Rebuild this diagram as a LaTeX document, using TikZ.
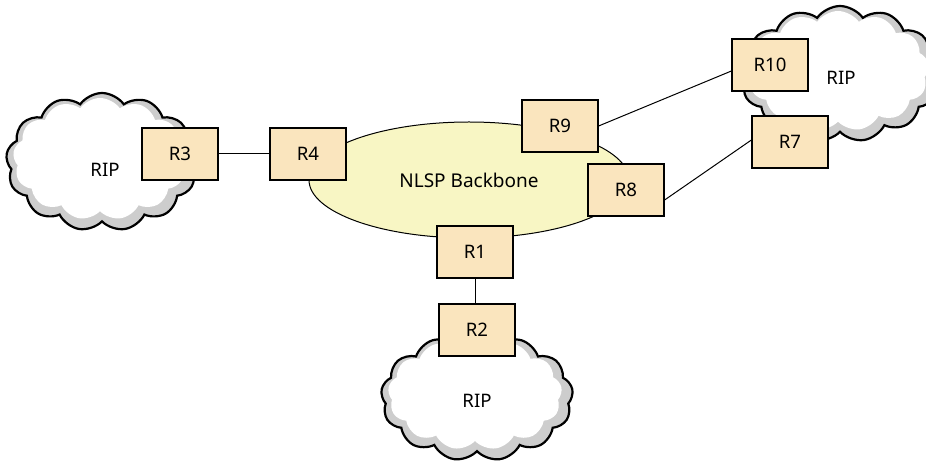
\documentclass[tikz,border=0pt]{standalone}
\usepackage{fontspec}
\setmainfont{Noto Sans}
\usetikzlibrary{shapes.geometric,shapes.symbols}
\definecolor{ellfill}{RGB}{248,246,196}
\definecolor{boxfill}{RGB}{250,229,190}
\definecolor{puffgray}{RGB}{205,205,205}
\begin{document}
\begin{tikzpicture}[x=0.5pt,y=-0.5pt,
  router/.style={draw=black, line width=0.6pt, fill=boxfill, minimum width=38pt, minimum height=26pt, inner sep=0pt, font=\fontsize{9.3}{10}\selectfont},
  cloudouter/.style={cloud, cloud puffs=13, cloud puff arc=110, cloud ignores aspect, draw=black, line width=1.1pt, fill=puffgray, inner sep=0pt},
  cloudinner/.style={cloud, cloud puffs=13, cloud puff arc=110, cloud ignores aspect, fill=white, inner sep=0pt},
  lbl/.style={font=\fontsize{9.3}{10}\selectfont, inner sep=0pt},
  link/.style={draw=black, line width=0.5pt}]
\useasboundingbox (0,0) rectangle (926,464);
% clouds
\node[cloudouter, minimum width=96pt, minimum height=69pt] (cl) at (102,162) {};
\node[cloudinner, minimum width=87pt, minimum height=61pt] (cli) at (100,159) {};
\node[cloudouter, minimum width=100pt, minimum height=68pt] (ct) at (840,74) {};
\node[cloudinner, minimum width=91pt, minimum height=60pt] (cti) at (838,71) {};
\node[cloudouter, minimum width=96pt, minimum height=64pt] (cb) at (477,397) {};
\node[cloudinner, minimum width=87pt, minimum height=56pt] (cbi) at (475,394) {};
\node[lbl] (ripl) at (105,170) {RIP};
\node[lbl] (ript) at (841,78) {RIP};
\node[lbl] (ripb) at (477,401) {RIP};
% backbone
\node[ellipse, draw=black, line width=0.5pt, fill=ellfill, minimum width=160pt, minimum height=58pt, inner sep=0pt, font=\fontsize{9.5}{10}\selectfont] (bb) at (469,180) {NLSP Backbone};
% routers
\node[router] (R4) at (308,154) {R4};
\node[router] (R3) at (180,154) {R3};
\node[router] (R9) at (560,126) {R9};
\node[router] (R8) at (626,190) {R8};
\node[router] (R1) at (475,252) {R1};
\node[router] (R2) at (477,330) {R2};
\node[router] (R10) at (770,65) {R10};
\node[router] (R7) at (790,142) {R7};
% links
\draw[link] (R3.east) -- (R4.west);
\draw[link] (R1.south) -- (R1.south |- R2.north);
\draw[link] (R9.east) -- ([yshift=-3pt]R10.west);
\draw[link] ([yshift=-5pt]R8.east) -- ([yshift=1pt]R7.west);
\end{tikzpicture}
\end{document}
